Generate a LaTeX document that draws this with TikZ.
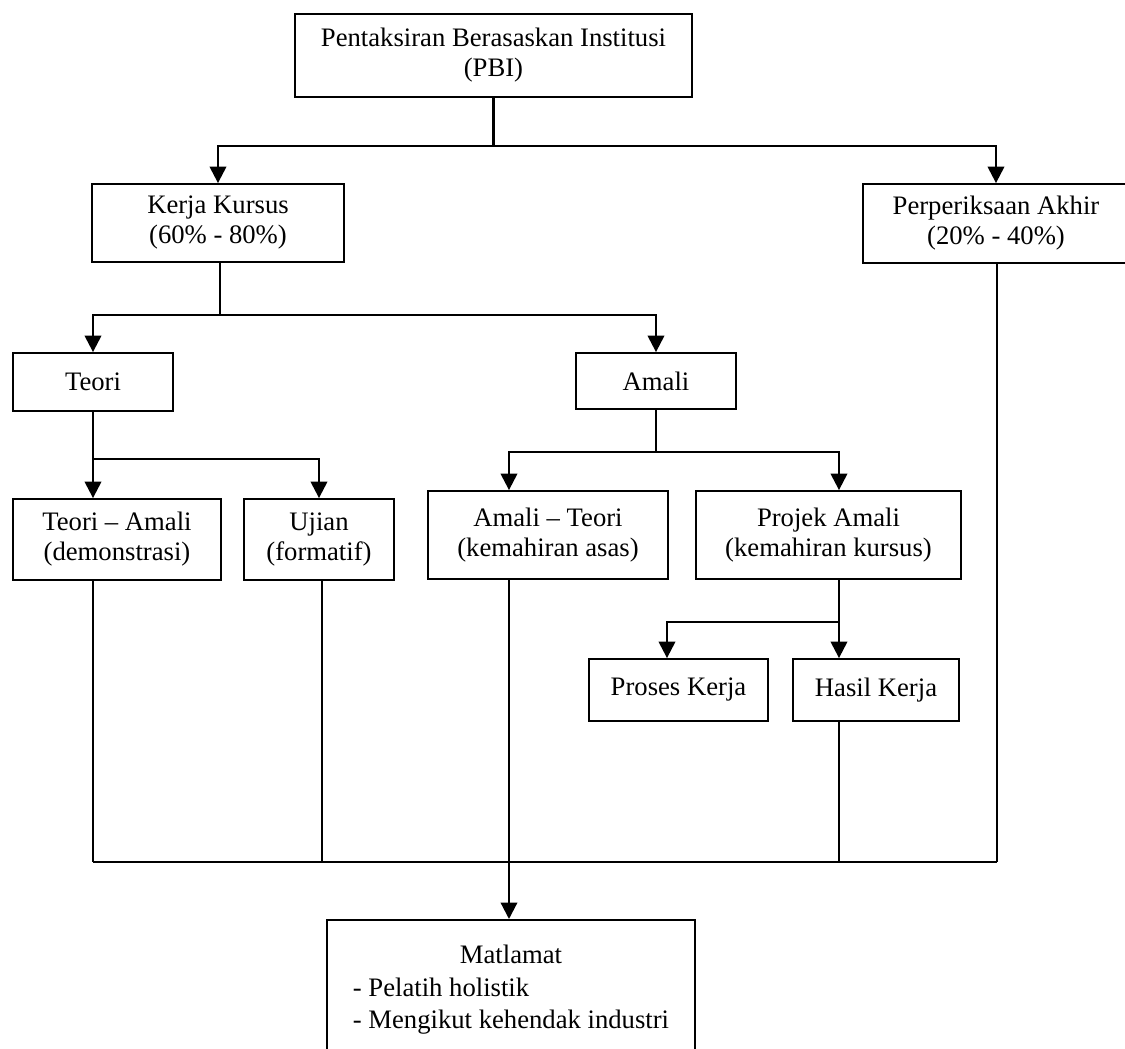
\documentclass[tikz,border=0pt]{standalone}
\usepackage{fontspec}
\setmainfont{Liberation Serif}
\usepackage{tikz}
\usetikzlibrary{arrows.meta}
\newcommand\pxu{0.45pt}

\begin{document}
\begin{tikzpicture}[x=\pxu, y=-\pxu,
        box/.style={draw, line width=0.8pt, align=center, inner sep=0pt,
            font=\fontsize{12pt}{13.5pt}\selectfont},
        link/.style={line width=1pt},
        arrow/.style={link, -{Triangle[width=7.4pt,length=7.4pt]}},
        feed/.style={line width=0.5pt}]
        \useasboundingbox (0,0) rectangle (1125,1049);
        \clip (0,0) rectangle (1125,1049);

        \node[box, minimum width=397*\pxu, minimum height=83*\pxu] (pbi) at (493.5,55.5) {Pentaksiran Berasaskan Institusi\\(PBI)};
        \node[box, minimum width=252*\pxu, minimum height=78*\pxu] (kerja) at (218,223) {Kerja Kursus\\(60\% - 80\%)};
        \node[box, minimum width=266*\pxu, minimum height=79*\pxu] (akhir) at (996,223.5) {Perperiksaan Akhir\\(20\% - 40\%)};
        \node[box, minimum width=160*\pxu, minimum height=58*\pxu] (teori) at (93,382) {Teori};
        \node[box, minimum width=160*\pxu, minimum height=56*\pxu] (amali) at (656,381) {Amali};
        \node[box, minimum width=208*\pxu, minimum height=81*\pxu] (demo) at (117,539.5) {Teori – Amali\\(demonstrasi)};
        \node[box, minimum width=150*\pxu, minimum height=81*\pxu] (ujian) at (319,539.5) {Ujian\\(formatif)};
        \node[box, minimum width=240*\pxu, minimum height=88*\pxu] (asas) at (548,535) {Amali – Teori\\(kemahiran asas)};
        \node[box, minimum width=265*\pxu, minimum height=88*\pxu] (projek) at (828.5,535) {Projek Amali\\(kemahiran kursus)};
        \node[box, minimum width=179*\pxu, minimum height=62*\pxu] (proses) at (678.5,690) {Proses Kerja};
        \node[box, minimum width=166*\pxu, minimum height=62*\pxu] (hasil) at (876,690) {Hasil Kerja};
        \node[box, anchor=north, minimum width=368*\pxu, text height=44*\pxu, text depth=120*\pxu] (matlamat) at (511,919)
            {\begin{tabular}[t]{@{}l@{}}\multicolumn{1}{@{}c@{}}{Matlamat}\\[1pt]- Pelatih holistik\\[1pt]- Mengikut kehendak industri\end{tabular}};

        \coordinate (j1) at (493.5,146);
        \coordinate (j2) at (220,315);
        \coordinate (j3) at (93,459);
        \coordinate (j4) at (656,452);
        \coordinate (j5) at (839,622);
        \coordinate (mid) at (509,862);
        \coordinate (barL) at (93,862);
        \coordinate (barR) at (997,862);

        \draw[link] (pbi) -- (j1);
        \draw[arrow] (j1) -| (kerja);
        \draw[arrow] (j1) -| (akhir);
        \draw[link] (kerja.south -| j2) -- (j2);
        \draw[arrow] (j2) -| (teori);
        \draw[arrow] (j2) -| (amali);
        \draw[arrow] (teori) -- (demo.north -| teori);
        \draw[arrow] (j3) -| (ujian);
        \draw[link] (amali) -- (j4);
        \draw[arrow] (j4) -| (asas.north -| mid);
        \draw[arrow] (j4) -| (projek.north -| j5);
        \draw[link] (projek.south -| j5) -- (j5);
        \draw[arrow] (j5) -| (proses.north -| 667,0);
        \draw[arrow] (j5) -- (hasil.north -| j5);

        \draw[feed] (demo.south -| barL) -- (barL);
        \draw[feed] (ujian.south -| 322,0) -- (322,862);
        \draw[feed] (hasil.south -| j5) -- (j5 |- barR);
        \draw[feed] (akhir.south -| barR) -- (barR);
        \draw[link, line width=1.2pt] (barL) -- (barR);
        \draw[arrow] (asas.south -| mid) -- (matlamat.north -| mid);
    \end{tikzpicture}
\end{document}
